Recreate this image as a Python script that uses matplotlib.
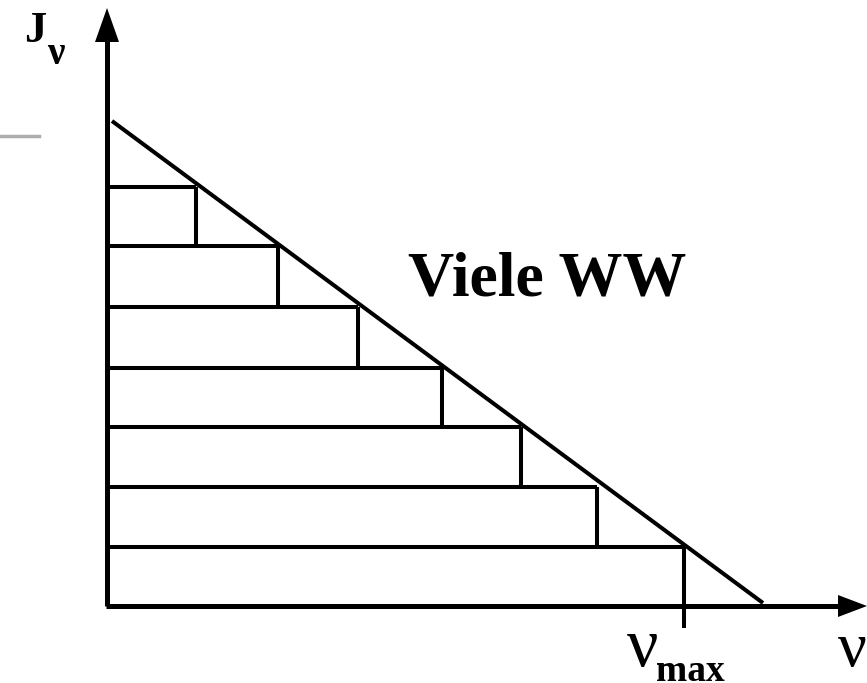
import matplotlib
matplotlib.use("Agg")
import matplotlib.pyplot as plt

# Data (origin at axis intersection; units ~ pixels of the reference)
bar_tops = [419, 360, 299, 238, 179, 119, 59]      # top of each horizontal strip
bar_rights = [89, 171, 251, 335, 414, 490, 577]    # right end of each strip (where it meets the line)
line_x = [5, 656]
line_y = [485, 3]
nu_max = 577

fig = plt.figure(figsize=(8.67, 6.83), dpi=100)
ax = fig.add_axes([0, 0, 1, 1])
ax.set_xlim(-107, 760)
ax.set_ylim(-77, 606)
ax.axis("off")

lw_axis = 3.6
lw = 2.9

# strips: each strip spans from the top of the one below to its own top
bottoms = [0] + bar_tops[::-1][:-1]
bottoms = bottoms[::-1]
for top, bottom, right in zip(bar_tops, bottoms, bar_rights):
    ax.plot([0, right], [top, top], color="black", lw=lw, solid_capstyle="butt")
    ax.plot([right, right], [bottom, top], color="black", lw=lw, solid_capstyle="butt")

# tick for nu_max below axis
ax.plot([nu_max, nu_max], [-22, 0], color="black", lw=lw, solid_capstyle="butt")

# diagonal
ax.plot(line_x, line_y, color="black", lw=lw, solid_capstyle="butt")

# axes with arrows
ax.plot([0, 0], [0, 566], color="black", lw=lw_axis, solid_capstyle="butt")
ax.plot([-1.5, 734], [0, 0], color="black", lw=lw_axis, solid_capstyle="butt")
ax.fill([-12, 12, 0], [564, 564, 598], color="black", lw=0)
ax.fill([731, 731, 760], [-11, 11, 0], color="black", lw=0)

# grey fragment at left
ax.plot([-107, -68], [470, 470], color="#999999", lw=2.5, alpha=0.8)

serif = ["Liberation Serif", "DejaVu Serif"]
ax.text(-83, 564, "J", fontsize=32, fontweight="bold", family=serif, ha="left", va="baseline")
ax.text(-60, 542, "ν", fontsize=28, fontweight="bold", family=serif, ha="left", va="baseline")
ax.text(301, 310, "Viele WW", fontsize=46, fontweight="bold", family=serif, ha="left", va="baseline")
ax.text(731, -60, "ν", fontsize=46, family=serif, ha="left", va="baseline")
ax.text(520, -60, "ν", fontsize=50, family=serif, ha="left", va="baseline")
ax.text(549, -75, "max", fontsize=27, fontweight="bold", family=serif, ha="left", va="baseline")

fig.savefig("out.png", dpi=100)
